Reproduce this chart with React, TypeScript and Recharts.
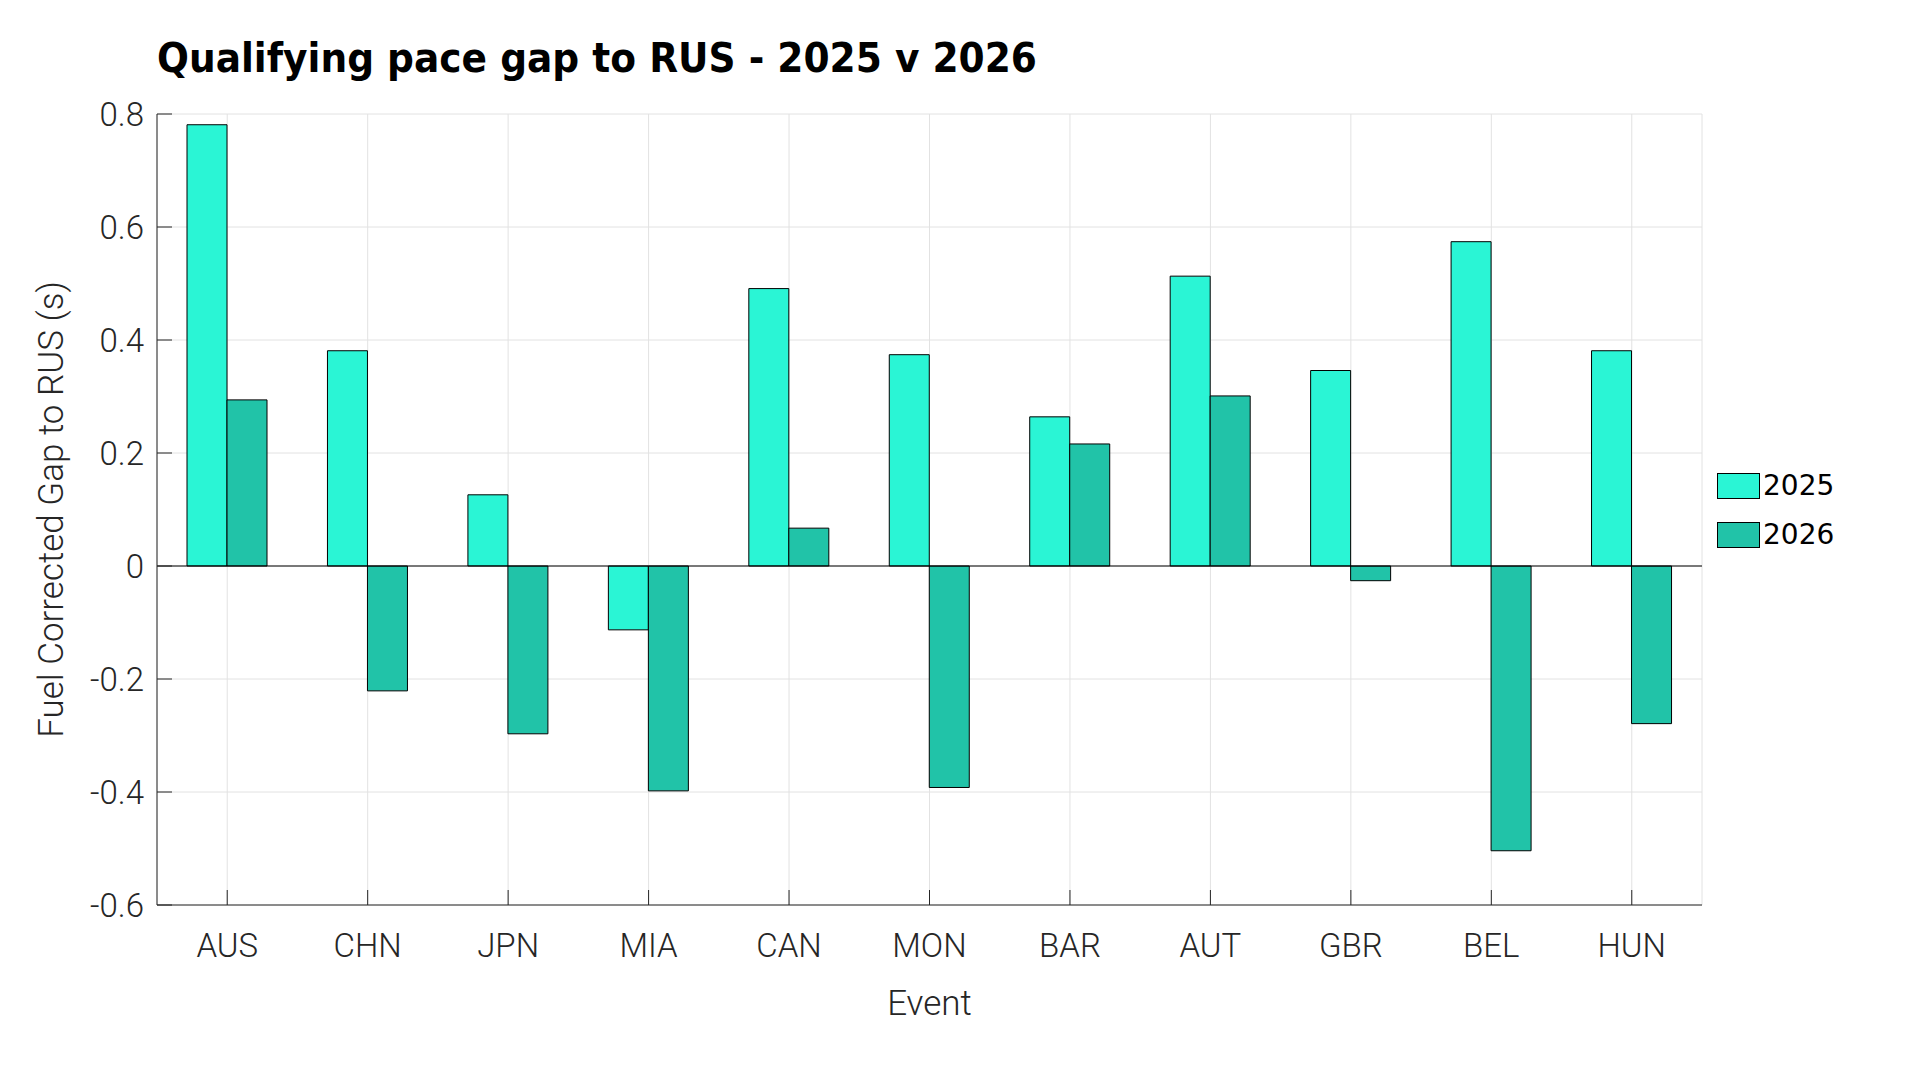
import { Bar, BarChart, CartesianGrid, Legend, ReferenceLine, XAxis, YAxis } from "recharts"

const events = ["AUS", "CHN", "JPN", "MIA", "CAN", "MON", "BAR", "AUT", "GBR", "BEL", "HUN"]
const gap2025 = [0.781, 0.381, 0.126, -0.113, 0.491, 0.374, 0.264, 0.513, 0.346, 0.574, 0.381]
const gap2026 = [0.294, -0.221, -0.297, -0.398, 0.067, -0.392, 0.216, 0.301, -0.026, -0.504, -0.279]
const yTicks = [-0.6, -0.4, -0.2, 0, 0.2, 0.4, 0.6, 0.8]

const data = events.map((event, i) => ({
  event,
  y2025: gap2025[i],
  y2026: gap2026[i],
}))

const ink = "#262626"
const tickFont = "Roboto, 'Noto Sans', sans-serif"
const colors = { y2025: "#2af5d5", y2026: "#21c3a8" }

function XTick({ x, y, payload }: any) {
  return (
    <text x={x} y={y} dy={25} textAnchor="middle" fill={ink} fontSize={33} fontFamily={tickFont} fontWeight={300}>
      {payload.value}
    </text>
  )
}

function YTick({ x, y, payload }: any) {
  return (
    <text x={x} y={y} dy="0.36em" textAnchor="end" fill={ink} fontSize={33} fontFamily={tickFont} fontWeight={300}>
      {payload.value}
    </text>
  )
}

function LegendBox() {
  const items = [
    { key: "y2025", label: "2025" },
    { key: "y2026", label: "2026" },
  ]
  return (
    <div>
      {items.map((it) => (
        <div key={it.key} style={{ display: "flex", alignItems: "center", height: 49 }}>
          <div
            style={{
              width: 41,
              height: 24,
              background: colors[it.key as "y2025"],
              border: "1px solid #000",
            }}
          />
          <span
            style={{
              marginLeft: 3,
              fontFamily: "'DejaVu Sans', sans-serif",
              fontSize: 28,
              color: "#000",
            }}
          >
            {it.label}
          </span>
        </div>
      ))}
    </div>
  )
}

export default function App() {
  return (
    <div style={{ position: "absolute", left: 0, top: 0, width: 1920, height: 1080, background: "#fff" }}>
      <svg width={1920} height={100} style={{ position: "absolute", left: 0, top: 0 }}>
        <text
          x={157}
          y={72}
          fontFamily="'DejaVu Sans', sans-serif"
          fontWeight={700}
          fontSize={40}
          textLength={880}
          lengthAdjust="spacingAndGlyphs"
          fill="#000"
        >
          Qualifying pace gap to RUS - 2025 v 2026
        </text>
      </svg>
      <BarChart
        width={1920}
        height={1080}
        data={data}
        margin={{ top: 114, right: 218, bottom: 115, left: 0 }}
        barCategoryGap={30}
        barGap={0}
      >
        <CartesianGrid stroke="#e2e2e2" />
        <XAxis
          dataKey="event"
          height={60}
          stroke={ink}
          tickSize={-15}
          tickMargin={42}
          tick={<XTick />}
          interval={0}
          label={{
            value: "Event",
            position: "insideBottom",
            offset: -50,
            fill: ink,
            fontSize: 35,
            fontFamily: tickFont,
            fontWeight: 300,
          }}
        />
        <YAxis
          width={157}
          domain={[-0.6, 0.8]}
          ticks={yTicks}
          stroke={ink}
          tickSize={-15}
          tickMargin={28}
          tick={<YTick />}
          label={{
            value: "Fuel Corrected Gap to RUS (s)",
            angle: -90,
            position: "insideLeft",
            offset: 51,
            fill: ink,
            fontSize: 35,
            fontFamily: tickFont,
            fontWeight: 300,
            style: { textAnchor: "middle" },
          }}
        />
        <Legend
          layout="vertical"
          align="center"
          verticalAlign="middle"
          content={<LegendBox />}
          wrapperStyle={{ left: 1717, top: 461, width: 200 }}
        />
        <ReferenceLine y={0} stroke="#000" strokeWidth={1} />
        <Bar dataKey="y2025" name="2025" fill={colors.y2025} stroke="#000" strokeWidth={1} isAnimationActive={false} />
        <Bar dataKey="y2026" name="2026" fill={colors.y2026} stroke="#000" strokeWidth={1} isAnimationActive={false} />
      </BarChart>
    </div>
  )
}
